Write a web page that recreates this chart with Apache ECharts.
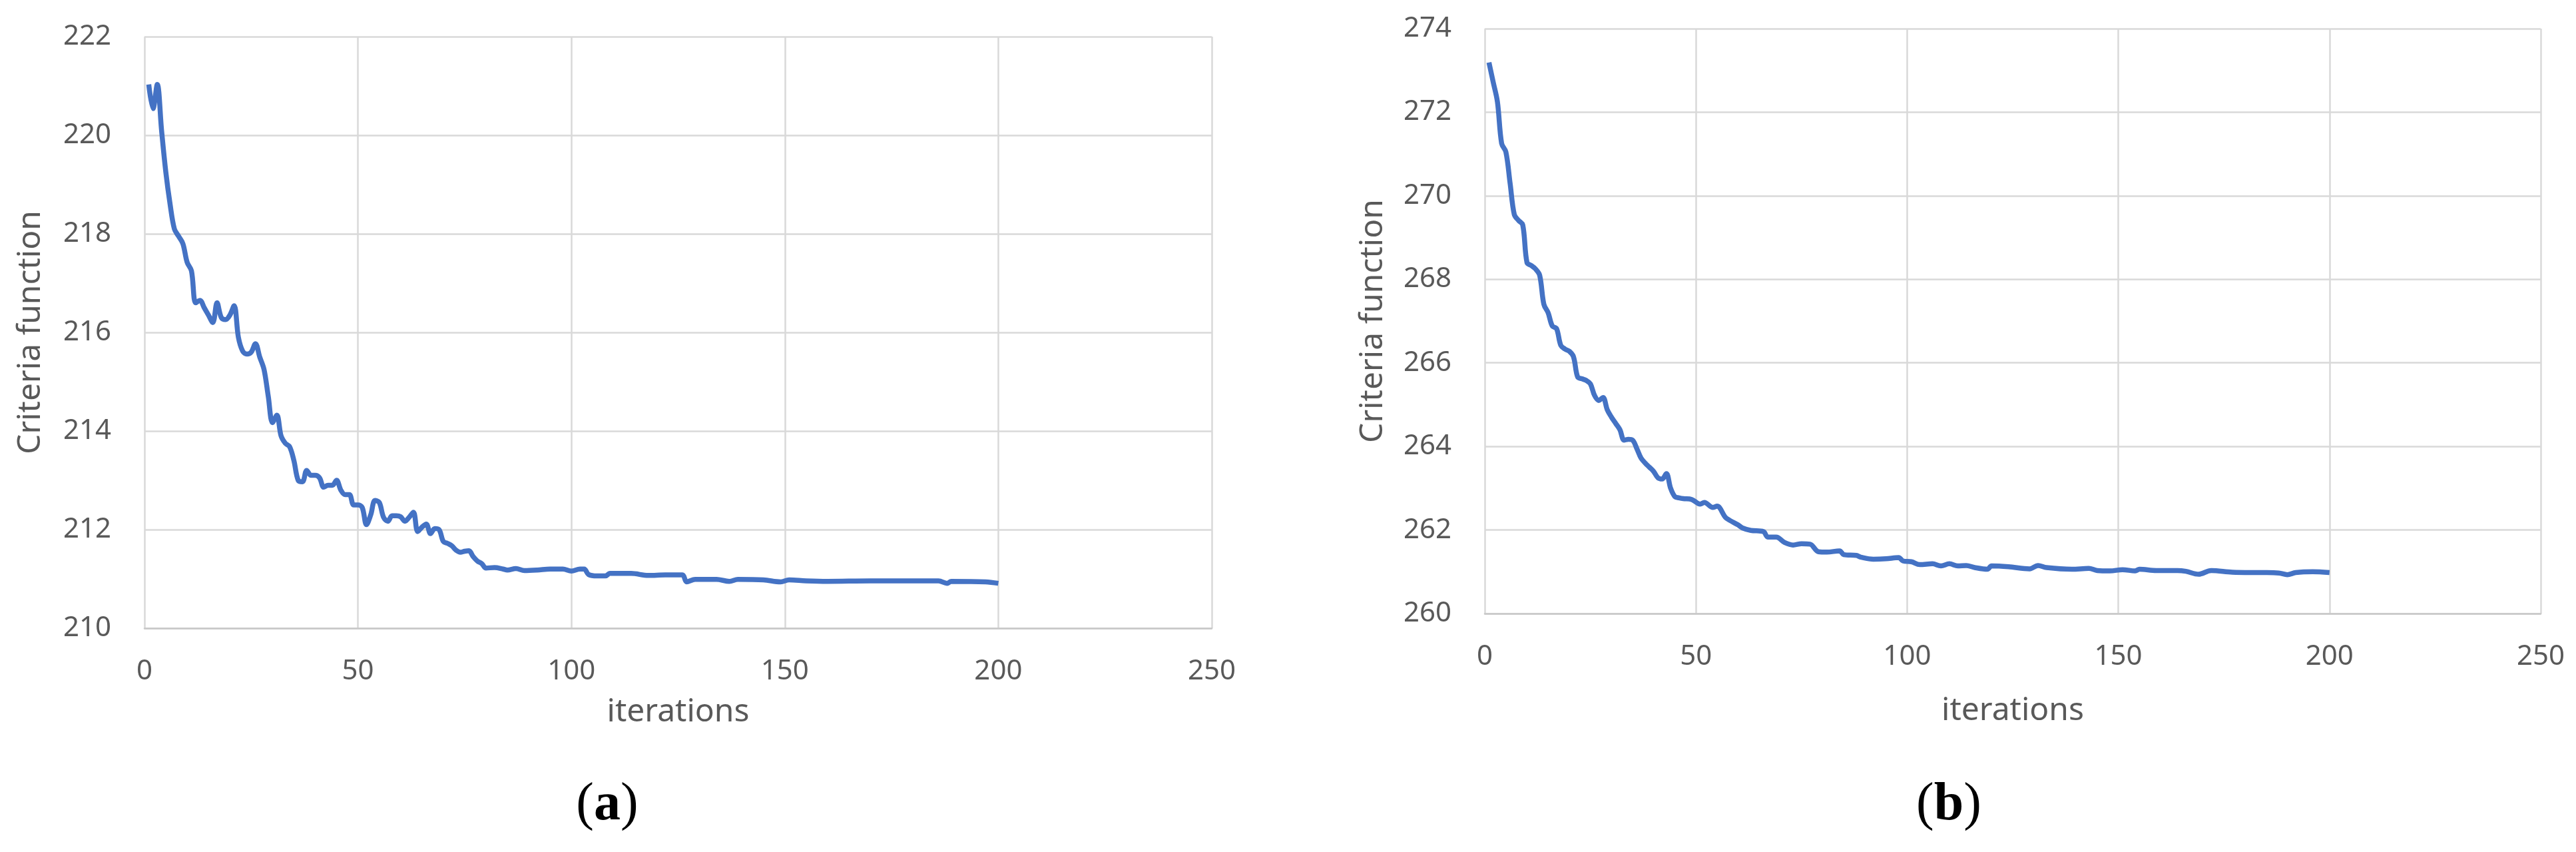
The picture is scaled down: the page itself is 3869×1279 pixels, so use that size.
<!DOCTYPE html>
<html>
<head>
<meta charset="utf-8">
<title>Criteria function vs iterations</title>
<script src="https://cdn.jsdelivr.net/npm/echarts@6/dist/echarts.min.js"></script>
<style>
  html, body { margin: 0; padding: 0; background: #fff; }
  #chart { width: 3869px; height: 1279px; }
</style>
</head>
<body>
<div id="chart"></div>
<script>
// panel (a)
const itersA = [1, 2, 3, 4, 5, 6, 7, 8, 9, 10, 11, 12, 13, 14, 15, 16, 17, 18, 19, 20,
  21, 22, 23, 24, 25, 26, 27, 28, 29, 30, 31, 32, 33, 34, 35, 36, 37, 38, 39, 40,
  41, 42, 43, 44, 45, 46, 47, 48, 49, 50, 51, 52, 53, 54, 55, 56, 57, 58, 59, 60,
  61, 62, 63, 64, 65, 66, 67, 68, 69, 70, 71, 72, 73, 74, 75, 76, 77, 78, 79, 80,
  82, 84, 85, 87, 89, 92, 95, 98, 100, 102, 103, 104, 106, 108, 109, 114, 118, 122, 126, 127,
  129, 134, 137, 139, 145, 149, 151, 155, 160, 170, 180, 186, 188, 189, 197, 200]
const valuesA = [221.03, 220.54, 221.03, 220.1, 219.25, 218.6, 218.1, 217.95, 217.8, 217.42,
  217.25, 216.6, 216.65, 216.5, 216.35, 216.2, 216.6, 216.3, 216.26, 216.35,
  216.54, 215.9, 215.62, 215.56, 215.6, 215.77, 215.5, 215.25, 214.7, 214.17,
  214.32, 213.9, 213.75, 213.68, 213.4, 213.0, 212.97, 213.2, 213.1, 213.1,
  213.05, 212.86, 212.9, 212.9, 213.0, 212.8, 212.71, 212.71, 212.5, 212.5,
  212.45, 212.1, 212.3, 212.59, 212.55, 212.25, 212.17, 212.28, 212.28, 212.26,
  212.17, 212.25, 212.35, 211.96, 212.05, 212.11, 211.92, 212.02, 212.0, 211.76,
  211.72, 211.67, 211.58, 211.54, 211.56, 211.57, 211.45, 211.36, 211.31, 211.22,
  211.23, 211.2, 211.18, 211.21, 211.17, 211.18, 211.2, 211.2, 211.16, 211.2,
  211.2, 211.09, 211.06, 211.06, 211.11, 211.11, 211.07, 211.08, 211.08, 210.94,
  210.99, 210.99, 210.95, 210.99, 210.98, 210.94, 210.98, 210.96, 210.95, 210.96,
  210.96, 210.96, 210.91, 210.95, 210.94, 210.91]

// panel (b)
const itersB = [1, 2, 3, 4, 5, 6, 7, 8, 9, 10, 11, 12, 13, 14, 15, 16, 17, 18, 19, 20,
  21, 22, 23, 24, 25, 26, 27, 28, 29, 30, 31, 32, 33, 34, 35, 36, 37, 38, 39, 40,
  41, 42, 43, 44, 45, 46, 47, 49, 51, 52, 54, 55, 57, 58, 60, 61, 63, 66, 67, 69,
  71, 73, 75, 77, 79, 81, 84, 85, 88, 89, 92, 95, 98, 99, 101, 103, 106, 108, 110, 112,
  114, 116, 119, 120, 124, 129, 131, 133, 139, 143, 145, 148, 151, 154, 155, 159, 164, 166, 169, 172,
  177, 184, 188, 190, 192, 196, 200]
const valuesB = [273.19, 272.72, 272.25, 271.25, 271.05, 270.3, 269.55, 269.41, 269.3, 268.4,
  268.33, 268.25, 268.1, 267.4, 267.2, 266.88, 266.82, 266.42, 266.33, 266.28,
  266.15, 265.66, 265.62, 265.58, 265.5, 265.22, 265.1, 265.17, 264.88, 264.7,
  264.55, 264.4, 264.15, 264.17, 264.15, 263.95, 263.72, 263.6, 263.5, 263.4,
  263.25, 263.22, 263.35, 263.0, 262.8, 262.77, 262.75, 262.73, 262.62, 262.66,
  262.54, 262.57, 262.3, 262.23, 262.12, 262.05, 261.99, 261.96, 261.83, 261.83,
  261.7, 261.64, 261.67, 261.66, 261.48, 261.47, 261.5, 261.41, 261.39, 261.35,
  261.3, 261.31, 261.34, 261.26, 261.24, 261.17, 261.19, 261.14, 261.19, 261.14,
  261.15, 261.1, 261.06, 261.14, 261.12, 261.07, 261.15, 261.1, 261.06, 261.08,
  261.03, 261.02, 261.05, 261.02, 261.06, 261.03, 261.03, 261.01, 260.94, 261.03,
  260.99, 260.98, 260.97, 260.93, 260.98, 261.0, 260.98]

const xTicks = [0, 250, 50]          // min, max, step
const yTicksA = [210, 222, 2]
const yTicksB = [260, 274, 2]

const LINE = '#4472C4'
const GRID = '#D9D9D9'
const TEXT = '#595959'
const FONT = '"Noto Sans", "Open Sans", sans-serif'

const xAxisFor = (gridIndex, gap) => ({
  type: 'value',
  gridIndex,
  min: xTicks[0],
  max: xTicks[1],
  interval: xTicks[2],
  name: 'iterations',
  nameLocation: 'middle',
  nameGap: gap,
  nameTextStyle: { fontSize: 48, color: TEXT, fontFamily: FONT },
  axisLine: { show: true, lineStyle: { color: '#C8C8C8', width: 2.5 } },
  axisTick: { show: false },
  axisLabel: { margin: 44, fontSize: 42, color: TEXT, fontFamily: FONT },
  splitLine: { show: true, lineStyle: { color: GRID, width: 2.5 } },
})

const yAxisFor = (gridIndex, ticks, gap) => ({
  type: 'value',
  gridIndex,
  min: ticks[0],
  max: ticks[1],
  interval: ticks[2],
  name: 'Criteria function',
  nameLocation: 'middle',
  nameGap: gap,
  nameTextStyle: { fontSize: 48, color: TEXT, fontFamily: FONT },
  axisLine: { show: false },
  axisTick: { show: false },
  axisLabel: { margin: 50, fontSize: 42, color: TEXT, fontFamily: FONT },
  splitLine: { show: true, lineStyle: { color: GRID, width: 2.5 } },
})

const panelLabel = (x, letter) => ({
  type: 'text',
  x,
  y: 1209,
  style: {
    text: '{p|(}{b|' + letter + '}{p|)}',
    align: 'center',
    verticalAlign: 'middle',
    rich: {
      p: { fontSize: 80, fontFamily: '"Liberation Serif", serif', fill: '#000' },
      b: { fontSize: 80, fontFamily: '"Liberation Serif", serif', fontWeight: 'bold', fill: '#000' },
    },
  },
})

const chart = echarts.init(document.getElementById('chart'))

chart.setOption({
  backgroundColor: '#fff',
  animation: false,
  grid: [
    { left: 217, top: 55, width: 1603, height: 888, containLabel: false },
    { left: 2230, top: 43, width: 1586, height: 878, containLabel: false },
  ],
  xAxis: [xAxisFor(0, 102), xAxisFor(1, 122)],
  yAxis: [yAxisFor(0, yTicksA, 147), yAxisFor(1, yTicksB, 144)],
  series: [
    {
      type: 'line',
      xAxisIndex: 0,
      yAxisIndex: 0,
      data: itersA.map((it, i) => [it, valuesA[i]]),
      showSymbol: false,
      smooth: 0.35,
      lineStyle: { color: LINE, width: 7.5 },
    },
    {
      type: 'line',
      xAxisIndex: 1,
      yAxisIndex: 1,
      data: itersB.map((it, i) => [it, valuesB[i]]),
      showSymbol: false,
      smooth: 0.35,
      lineStyle: { color: LINE, width: 7.5 },
    },
  ],
  graphic: [panelLabel(912, 'a'), panelLabel(2927, 'b')],
})
</script>
</body>
</html>
